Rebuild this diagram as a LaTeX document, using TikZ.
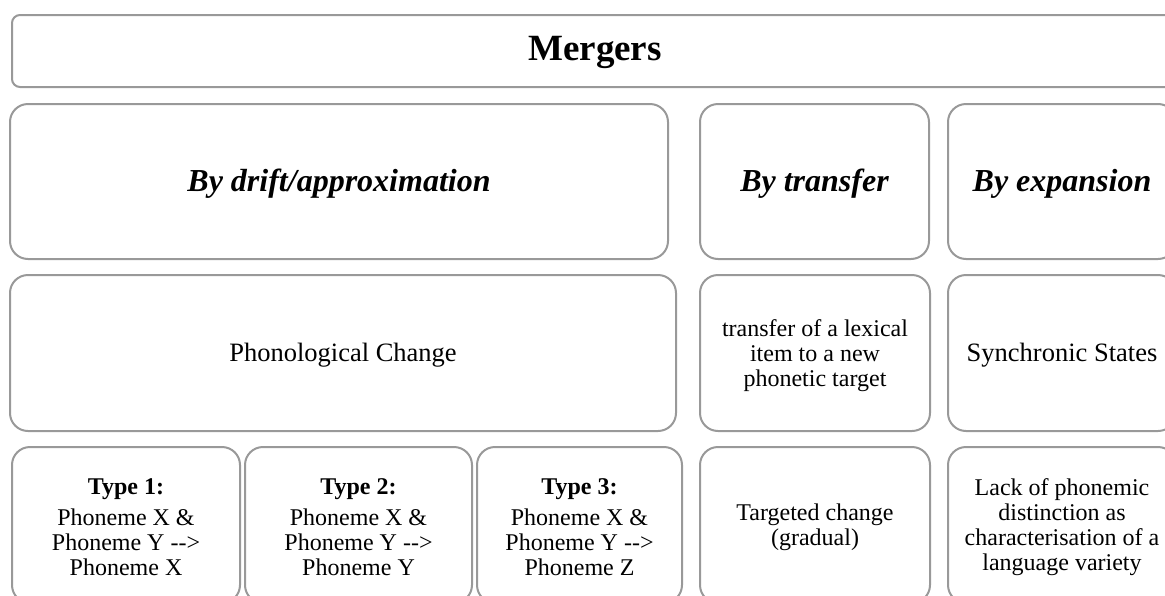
\documentclass[tikz,border=0pt]{standalone}
\usepackage{fontspec}
\setmainfont{Liberation Serif}
\usepackage{tikz}
\definecolor{zzzzzz}{rgb}{0.6,0.6,0.6}

\begin{document}
\begin{tikzpicture}[line cap=round,line join=round,x=1pt,y=-1pt,
    cell/.style={draw=zzzzzz,line width=2pt,rounded corners=18pt,inner sep=0pt,minimum height=156pt},
    txt/.style={align=center,inner sep=0pt,yshift=-2.5pt},
    head/.style={txt,font=\fontsize{32}{36}\selectfont\bfseries\itshape},
    big/.style={txt,font=\fontsize{26.5}{30}\selectfont},
    body/.style={txt,font=\fontsize{24}{25}\selectfont}]
      \useasboundingbox (0,0) rectangle (1165,595);
      \clip (0,0) rectangle (1165,595);
      \node[cell,rounded corners=8pt,minimum width=1166pt,minimum height=72pt,
        label={[txt,yshift=1.5pt,font=\fontsize{37}{40}\selectfont\bfseries]center:Mergers}] (merg) at (595,51) {};
      % second row
      \node[cell,minimum width=658pt,minimum height=155pt,label={[head]center:By drift/approximation}] (drift) at (339,181.5) {};
      \node[cell,minimum width=229pt,minimum height=155pt,label={[head]center:By transfer}] (transf) at (814.5,181.5) {};
      \node[cell,minimum width=228pt,minimum height=155pt,label={[head]center:By expansion}] (expan) at (1062,181.5) {};
      % third row
      \node[cell,minimum width=666pt,label={[big]center:Phonological Change}] (phon) at (343,353) {};
      \node[cell,minimum width=230pt,label={[body]center:transfer of a lexical\\item to a new\\phonetic target}] (lexic) at (815,353) {};
      \node[cell,minimum width=228pt,label={[big]center:Synchronic States}] (sync) at (1062,353) {};
      % fourth row
      \node[cell,minimum width=228pt,label={[body]center:\textbf{Type 1:}\\[6pt]Phoneme X \&\\Phoneme Y -{}->\\Phoneme X}] (type1) at (126,525) {};
      \node[cell,minimum width=227pt,label={[body]center:\textbf{Type 2:}\\[6pt]Phoneme X \&\\Phoneme Y -{}->\\Phoneme Y}] (type2) at (358.5,525) {};
      \node[cell,minimum width=205pt,label={[body]center:\textbf{Type 3:}\\[6pt]Phoneme X \&\\Phoneme Y -{}->\\Phoneme Z}] (type3) at (579.5,525) {};
      \node[cell,minimum width=230pt,label={[body]center:Targeted change\\(gradual)}] (targ) at (815,525) {};
      \node[cell,minimum width=228pt,label={[body]center:Lack of phonemic\\distinction as\\characterisation of a\\language variety}] (lack) at (1062,525) {};
    \end{tikzpicture}
\end{document}
